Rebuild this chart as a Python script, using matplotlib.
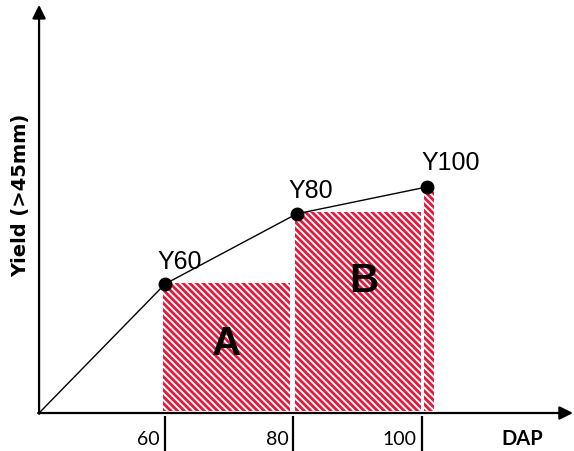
import matplotlib
matplotlib.use("Agg")
import matplotlib.pyplot as plt
from matplotlib.patches import Rectangle

# data (DAP on x, yield in arbitrary units on y)
origin = (40.4, 0)
pt_dap = [60, 80.5, 100.8]
pt_yield = [31.6, 48.8, 55.4]
pt_labels = ["Y60", "Y80", "Y100"]
tick_dap = [60, 80, 100]
tick_labels = ["60", "80", "100"]
# hatched areas: (left, right, top)
areas = [(59.7, 79.5, 31.9), (80.2, 99.8, 49.3), (100.3, 101.8, 55.4)]
area_names = ["A", "B"]

red = "#e8173a"
plt.rcParams["hatch.linewidth"] = 2.0
plt.rcParams["hatch.color"] = red

fig = plt.figure(figsize=(5.74, 4.51), dpi=100)
ax = fig.add_axes([0, 0, 1, 1])
ax.set_xlim(34.32, 123.66)
ax.set_ylim(-9.31, 101.2)
ax.axis("off")

for l, r, t in areas:
    ax.add_patch(Rectangle((l, 0.4), r - l, t - 0.4, facecolor="white",
                           edgecolor=red, linewidth=0, hatch="\\" * 5))

# axes with arrows
ax.annotate("", xy=(origin[0], 100.0), xytext=(origin[0], -0.2),
            arrowprops=dict(arrowstyle="-|>", color="black", lw=1.6,
                            mutation_scale=20, shrinkA=0, shrinkB=0))
ax.annotate("", xy=(123.5, 0), xytext=(origin[0] - 0.15, 0),
            arrowprops=dict(arrowstyle="-|>", color="black", lw=1.6,
                            mutation_scale=20, shrinkA=0, shrinkB=0))

for x in tick_dap:
    ax.plot([x, x], [-0.8, -9.31], color="black", lw=1.6, solid_capstyle="butt")

xs = [origin[0]] + pt_dap
ys = [origin[1]] + pt_yield
ax.plot(xs, ys, color="black", lw=1.0, zorder=3)
ax.plot(pt_dap, pt_yield, "o", color="black", ms=9, zorder=4)

lab_pos = [(62.3, 36.9), (82.7, 54.5), (104.5, 61.3)]
for (x, y), s in zip(lab_pos, pt_labels):
    ax.text(x, y, s, fontsize=18, family="Liberation Sans",
            ha="center", va="center")

name_pos = [(69.6, 16.8), (91.0, 32.4)]
for (x, y), s in zip(name_pos, area_names):
    ax.text(x, y, s, fontsize=29, fontweight="bold", family="Liberation Sans",
            ha="center", va="center", zorder=5)

for x, s in zip(tick_dap, tick_labels):
    ax.text(x - 0.8, -6.4, s, fontsize=14, family="Lato", ha="right", va="center")
ax.text(115.6, -6.4, "DAP", fontsize=14.5, fontweight="bold", family="Lato",
        ha="center", va="center")
ax.text(37.6, 53.4, "Yield (>45mm)", fontsize=14, fontweight="bold",
        family="DejaVu Sans", rotation=90, ha="center", va="center")

fig.savefig("out.png", dpi=100)
